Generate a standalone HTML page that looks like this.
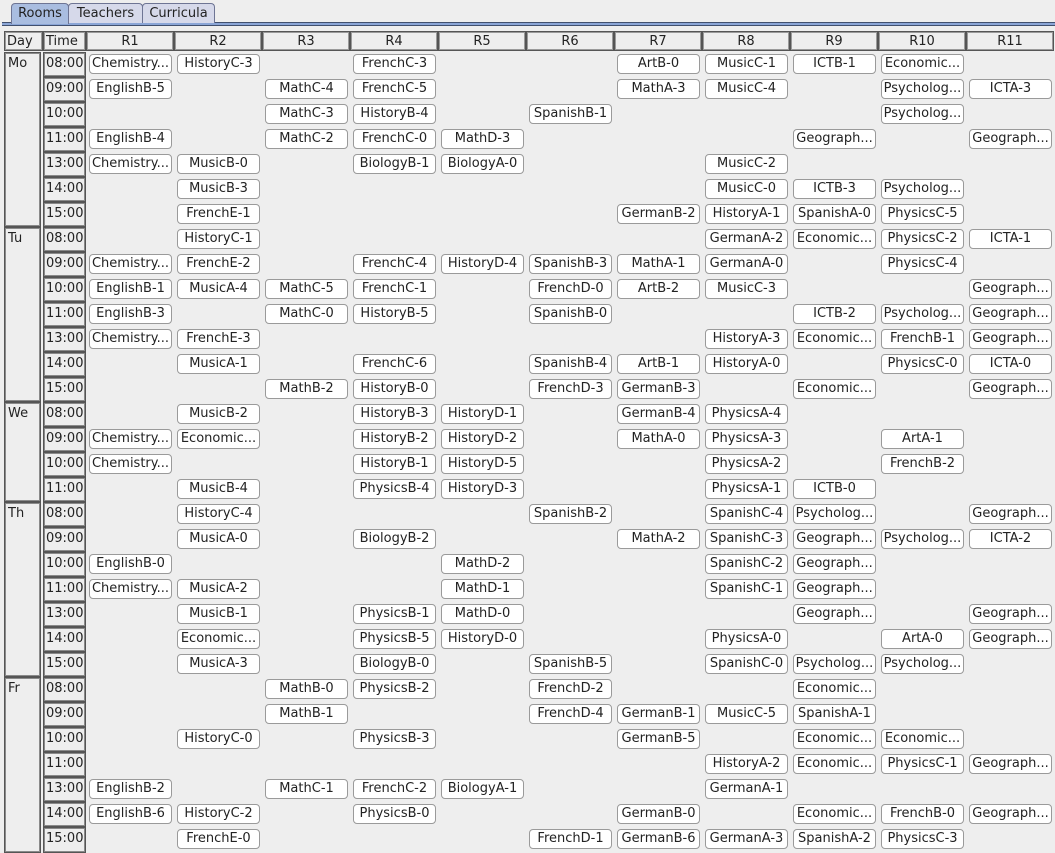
<!DOCTYPE html>
<html><head><meta charset="utf-8"><style>
body{margin:0;width:1055px;height:853px;background:#eeeeee;font-family:"DejaVu Sans","Liberation Sans",sans-serif;font-size:13px;color:#222;position:relative;overflow:hidden}
.tab{position:absolute;top:3px;height:19px;border:1px solid #6e7594;border-bottom:none;border-radius:4px 4px 0 0;background:#d6d9ea;text-align:center;line-height:20px;font-size:13px}
.sel{background:#a9bde0;top:3px;height:20px}
.bl{position:absolute;left:2px;right:0;top:22px;height:2px;background:#8aa5d6;border-bottom:1px solid #41506e;border-top:1px solid #41506e}
.h{position:absolute;top:31px;height:18px;border:1px solid #555;box-shadow:inset 0 0 0 1px #9a9a9a;text-align:center;line-height:19px;font-size:13px}
.d{position:absolute;left:4px;width:37px;border:1px solid #555;box-shadow:inset 0 0 0 1px #8a8a8a;padding:3px 0 0 3px;box-sizing:border-box}
.t{position:absolute;left:43px;width:43px;height:25px;border:1px solid #555;box-shadow:inset 0 0 0 1px #8a8a8a;box-sizing:border-box;padding:3px 0 0 2px;line-height:15px}
.r{position:absolute;left:0;height:20px;width:1055px}
.r b{position:absolute;top:0;width:81px;height:18px;background:#fff;border:1px solid #9a9a9a;border-radius:4px;font-weight:normal;text-align:center;line-height:18px;white-space:nowrap;overflow:hidden}
.c1{left:89px}.c2{left:177px}.c3{left:265px}.c4{left:353px}.c5{left:441px}.c6{left:529px}.c7{left:617px}.c8{left:705px}.c9{left:793px}.c10{left:881px}.c11{left:969px}
</style></head><body>
<div class="bl"></div>
<div class="tab sel" style="left:11px;width:56px">Rooms</div>
<div class="tab" style="left:68px;width:73px">Teachers</div>
<div class="tab" style="left:142px;width:71px">Curricula</div>

<div class="h" style="left:4px;text-align:left;padding-left:2px;width:35px">Day</div>
<div class="h" style="left:43px;text-align:left;padding-left:2px;width:39px">Time</div>
<div class="h" style="left:86px;width:86px">R1</div>
<div class="h" style="left:174px;width:86px">R2</div>
<div class="h" style="left:262px;width:86px">R3</div>
<div class="h" style="left:350px;width:86px">R4</div>
<div class="h" style="left:438px;width:86px">R5</div>
<div class="h" style="left:526px;width:86px">R6</div>
<div class="h" style="left:614px;width:86px">R7</div>
<div class="h" style="left:702px;width:86px">R8</div>
<div class="h" style="left:790px;width:86px">R9</div>
<div class="h" style="left:878px;width:86px">R10</div>
<div class="h" style="left:966px;width:86px">R11</div>

<div class="d" style="top:52px;height:175px">Mo</div>
<div class="d" style="top:227px;height:175px">Tu</div>
<div class="d" style="top:402px;height:100px">We</div>
<div class="d" style="top:502px;height:175px">Th</div>
<div class="d" style="top:677px;height:176px">Fr</div>

<div class="t" style="top:52px">08:00</div><div class="t" style="top:77px">09:00</div><div class="t" style="top:102px">10:00</div><div class="t" style="top:127px">11:00</div><div class="t" style="top:152px">13:00</div><div class="t" style="top:177px">14:00</div><div class="t" style="top:202px">15:00</div>
<div class="t" style="top:227px">08:00</div><div class="t" style="top:252px">09:00</div><div class="t" style="top:277px">10:00</div><div class="t" style="top:302px">11:00</div><div class="t" style="top:327px">13:00</div><div class="t" style="top:352px">14:00</div><div class="t" style="top:377px">15:00</div>
<div class="t" style="top:402px">08:00</div><div class="t" style="top:427px">09:00</div><div class="t" style="top:452px">10:00</div><div class="t" style="top:477px">11:00</div>
<div class="t" style="top:502px">08:00</div><div class="t" style="top:527px">09:00</div><div class="t" style="top:552px">10:00</div><div class="t" style="top:577px">11:00</div><div class="t" style="top:602px">13:00</div><div class="t" style="top:627px">14:00</div><div class="t" style="top:652px">15:00</div>
<div class="t" style="top:677px">08:00</div><div class="t" style="top:702px">09:00</div><div class="t" style="top:727px">10:00</div><div class="t" style="top:752px">11:00</div><div class="t" style="top:777px">13:00</div><div class="t" style="top:802px">14:00</div><div class="t" style="top:827px;height:26px">15:00</div>

<div class="r" style="top:54px"><b class="c1">Chemistry...</b><b class="c2">HistoryC-3</b><b class="c4">FrenchC-3</b><b class="c7">ArtB-0</b><b class="c8">MusicC-1</b><b class="c9">ICTB-1</b><b class="c10">Economic...</b></div>
<div class="r" style="top:79px"><b class="c1">EnglishB-5</b><b class="c3">MathC-4</b><b class="c4">FrenchC-5</b><b class="c7">MathA-3</b><b class="c8">MusicC-4</b><b class="c10">Psycholog...</b><b class="c11">ICTA-3</b></div>
<div class="r" style="top:104px"><b class="c3">MathC-3</b><b class="c4">HistoryB-4</b><b class="c6">SpanishB-1</b><b class="c10">Psycholog...</b></div>
<div class="r" style="top:129px"><b class="c1">EnglishB-4</b><b class="c3">MathC-2</b><b class="c4">FrenchC-0</b><b class="c5">MathD-3</b><b class="c9">Geograph...</b><b class="c11">Geograph...</b></div>
<div class="r" style="top:154px"><b class="c1">Chemistry...</b><b class="c2">MusicB-0</b><b class="c4">BiologyB-1</b><b class="c5">BiologyA-0</b><b class="c8">MusicC-2</b></div>
<div class="r" style="top:179px"><b class="c2">MusicB-3</b><b class="c8">MusicC-0</b><b class="c9">ICTB-3</b><b class="c10">Psycholog...</b></div>
<div class="r" style="top:204px"><b class="c2">FrenchE-1</b><b class="c7">GermanB-2</b><b class="c8">HistoryA-1</b><b class="c9">SpanishA-0</b><b class="c10">PhysicsC-5</b></div>
<div class="r" style="top:229px"><b class="c2">HistoryC-1</b><b class="c8">GermanA-2</b><b class="c9">Economic...</b><b class="c10">PhysicsC-2</b><b class="c11">ICTA-1</b></div>
<div class="r" style="top:254px"><b class="c1">Chemistry...</b><b class="c2">FrenchE-2</b><b class="c4">FrenchC-4</b><b class="c5">HistoryD-4</b><b class="c6">SpanishB-3</b><b class="c7">MathA-1</b><b class="c8">GermanA-0</b><b class="c10">PhysicsC-4</b></div>
<div class="r" style="top:279px"><b class="c1">EnglishB-1</b><b class="c2">MusicA-4</b><b class="c3">MathC-5</b><b class="c4">FrenchC-1</b><b class="c6">FrenchD-0</b><b class="c7">ArtB-2</b><b class="c8">MusicC-3</b><b class="c11">Geograph...</b></div>
<div class="r" style="top:304px"><b class="c1">EnglishB-3</b><b class="c3">MathC-0</b><b class="c4">HistoryB-5</b><b class="c6">SpanishB-0</b><b class="c9">ICTB-2</b><b class="c10">Psycholog...</b><b class="c11">Geograph...</b></div>
<div class="r" style="top:329px"><b class="c1">Chemistry...</b><b class="c2">FrenchE-3</b><b class="c8">HistoryA-3</b><b class="c9">Economic...</b><b class="c10">FrenchB-1</b><b class="c11">Geograph...</b></div>
<div class="r" style="top:354px"><b class="c2">MusicA-1</b><b class="c4">FrenchC-6</b><b class="c6">SpanishB-4</b><b class="c7">ArtB-1</b><b class="c8">HistoryA-0</b><b class="c10">PhysicsC-0</b><b class="c11">ICTA-0</b></div>
<div class="r" style="top:379px"><b class="c3">MathB-2</b><b class="c4">HistoryB-0</b><b class="c6">FrenchD-3</b><b class="c7">GermanB-3</b><b class="c9">Economic...</b><b class="c11">Geograph...</b></div>
<div class="r" style="top:404px"><b class="c2">MusicB-2</b><b class="c4">HistoryB-3</b><b class="c5">HistoryD-1</b><b class="c7">GermanB-4</b><b class="c8">PhysicsA-4</b></div>
<div class="r" style="top:429px"><b class="c1">Chemistry...</b><b class="c2">Economic...</b><b class="c4">HistoryB-2</b><b class="c5">HistoryD-2</b><b class="c7">MathA-0</b><b class="c8">PhysicsA-3</b><b class="c10">ArtA-1</b></div>
<div class="r" style="top:454px"><b class="c1">Chemistry...</b><b class="c4">HistoryB-1</b><b class="c5">HistoryD-5</b><b class="c8">PhysicsA-2</b><b class="c10">FrenchB-2</b></div>
<div class="r" style="top:479px"><b class="c2">MusicB-4</b><b class="c4">PhysicsB-4</b><b class="c5">HistoryD-3</b><b class="c8">PhysicsA-1</b><b class="c9">ICTB-0</b></div>
<div class="r" style="top:504px"><b class="c2">HistoryC-4</b><b class="c6">SpanishB-2</b><b class="c8">SpanishC-4</b><b class="c9">Psycholog...</b><b class="c11">Geograph...</b></div>
<div class="r" style="top:529px"><b class="c2">MusicA-0</b><b class="c4">BiologyB-2</b><b class="c7">MathA-2</b><b class="c8">SpanishC-3</b><b class="c9">Geograph...</b><b class="c10">Psycholog...</b><b class="c11">ICTA-2</b></div>
<div class="r" style="top:554px"><b class="c1">EnglishB-0</b><b class="c5">MathD-2</b><b class="c8">SpanishC-2</b><b class="c9">Geograph...</b></div>
<div class="r" style="top:579px"><b class="c1">Chemistry...</b><b class="c2">MusicA-2</b><b class="c5">MathD-1</b><b class="c8">SpanishC-1</b><b class="c9">Geograph...</b></div>
<div class="r" style="top:604px"><b class="c2">MusicB-1</b><b class="c4">PhysicsB-1</b><b class="c5">MathD-0</b><b class="c9">Geograph...</b><b class="c11">Geograph...</b></div>
<div class="r" style="top:629px"><b class="c2">Economic...</b><b class="c4">PhysicsB-5</b><b class="c5">HistoryD-0</b><b class="c8">PhysicsA-0</b><b class="c10">ArtA-0</b><b class="c11">Geograph...</b></div>
<div class="r" style="top:654px"><b class="c2">MusicA-3</b><b class="c4">BiologyB-0</b><b class="c6">SpanishB-5</b><b class="c8">SpanishC-0</b><b class="c9">Psycholog...</b><b class="c10">Psycholog...</b></div>
<div class="r" style="top:679px"><b class="c3">MathB-0</b><b class="c4">PhysicsB-2</b><b class="c6">FrenchD-2</b><b class="c9">Economic...</b></div>
<div class="r" style="top:704px"><b class="c3">MathB-1</b><b class="c6">FrenchD-4</b><b class="c7">GermanB-1</b><b class="c8">MusicC-5</b><b class="c9">SpanishA-1</b></div>
<div class="r" style="top:729px"><b class="c2">HistoryC-0</b><b class="c4">PhysicsB-3</b><b class="c7">GermanB-5</b><b class="c9">Economic...</b><b class="c10">Economic...</b></div>
<div class="r" style="top:754px"><b class="c8">HistoryA-2</b><b class="c9">Economic...</b><b class="c10">PhysicsC-1</b><b class="c11">Geograph...</b></div>
<div class="r" style="top:779px"><b class="c1">EnglishB-2</b><b class="c3">MathC-1</b><b class="c4">FrenchC-2</b><b class="c5">BiologyA-1</b><b class="c8">GermanA-1</b></div>
<div class="r" style="top:804px"><b class="c1">EnglishB-6</b><b class="c2">HistoryC-2</b><b class="c4">PhysicsB-0</b><b class="c7">GermanB-0</b><b class="c9">Economic...</b><b class="c10">FrenchB-0</b><b class="c11">Geograph...</b></div>
<div class="r" style="top:829px"><b class="c2">FrenchE-0</b><b class="c6">FrenchD-1</b><b class="c7">GermanB-6</b><b class="c8">GermanA-3</b><b class="c9">SpanishA-2</b><b class="c10">PhysicsC-3</b></div>
</body></html>
